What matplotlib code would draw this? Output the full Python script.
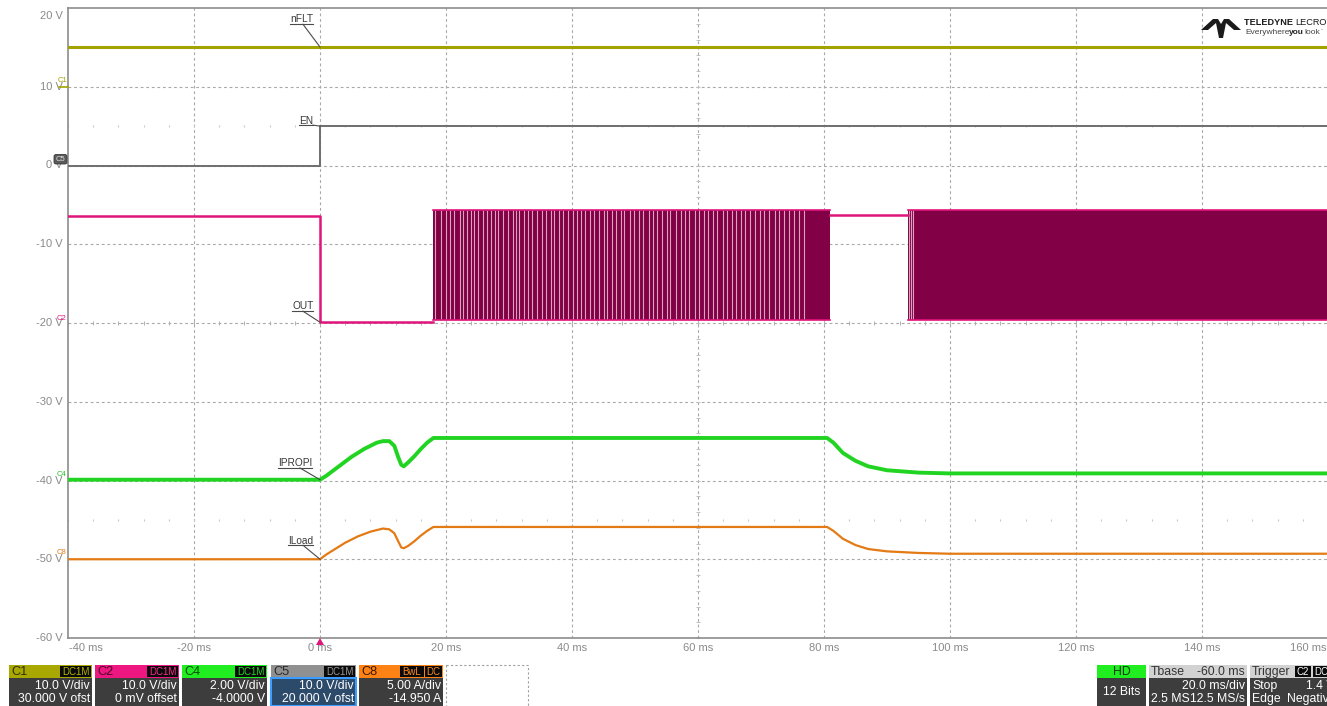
import matplotlib
matplotlib.use('Agg')
import matplotlib.pyplot as plt
from matplotlib.patches import Rectangle, Polygon, FancyBboxPatch

plt.rcParams['font.family'] = ['Liberation Sans', 'DejaVu Sans']

# ---------------- data (time in ms, screen volts) ----------------
x_ticks = [-40, -20, 0, 20, 40, 60, 80, 100, 120, 140, 160]
x_labels = ['-40 ms', '-20 ms', '0 ms', '20 ms', '40 ms', '60 ms', '80 ms',
            '100 ms', '120 ms', '140 ms', '160 ms']
y_ticks = [20, 10, 0, -10, -20, -30, -40, -50, -60]
y_labels = ['20 V', '10 V', '0 V', '-10 V', '-20 V', '-30 V', '-40 V', '-50 V', '-60 V']

# C1 nFLT
nflt_t = [-40, 160]
nflt_v = [15.05, 15.05]

# C5 EN
en_t = [-40, 0, 0, 160]
en_v = [0.0, 0.0, 5.0, 5.0]

# C2 OUT (steady parts)
out_t = [-40, 0, 0, 18.0]
out_v = [-6.4, -6.4, -19.9, -19.9]
out_idle_t = [81.0, 93.4]
out_idle_v = [-6.3, -6.3]
out_burst_high = -5.7
out_burst_low = -19.6
out_bursts = [(18.0, 81.0), (93.4, 160.0)]
out_burst_gaps = [18.2, 19.2, 20.0, 20.7, 21.3, 22.2, 22.7, 23.3, 23.9, 24.5,
                  25.0, 25.8, 26.5, 27.1, 27.7, 28.2, 29.1, 29.8, 30.6, 31.1,
                  31.6, 32.4, 33.0, 33.6, 34.4, 35.3, 35.9, 36.7, 37.2, 38.0,
                  38.6, 39.3, 40.1, 40.8, 41.5, 42.0, 42.9, 43.5, 44.3, 45.1,
                  45.6, 46.4, 47.0, 47.8, 48.3, 49.2, 49.9, 50.6, 51.3, 52.2,
                  52.9, 53.5, 54.3, 55.0, 55.6, 56.5, 57.3, 58.0, 58.6, 59.5,
                  60.2, 61.0, 61.6, 62.4, 63.0, 63.9, 64.6, 65.4, 66.0, 66.9,
                  67.5, 68.3, 69.0, 69.9, 70.5, 71.3, 72.2, 72.8, 73.7, 74.4,
                  75.3, 76.0, 76.9, 93.5, 93.8, 94.2]

# C4 IPROPI
iprop_t = [-40, 0, 1, 2, 3, 4, 5, 6, 7, 8, 9, 10, 11, 11.8, 12.4, 12.9, 13.3,
           14, 15, 16, 17, 18, 80.5, 81.5, 83, 85, 87, 90, 95, 100, 160]
iprop_v = [-39.9, -39.9, -39.4, -38.8, -38.2, -37.6, -37.0, -36.5, -36.0, -35.6,
           -35.2, -35.0, -35.0, -35.6, -37.0, -38.0, -38.2, -37.7, -36.9, -36.0,
           -35.2, -34.6, -34.6, -35.2, -36.5, -37.5, -38.2, -38.7, -39.0, -39.1,
           -39.1]

# C8 ILoad
iload_t = [-40, 0, 1, 2, 3, 4, 5, 6, 7, 8, 9, 10, 11, 11.8, 12.4, 12.9, 13.3,
           14, 15, 16, 17, 18, 80.5, 81.5, 83, 85, 87, 90, 95, 100, 160]
iload_v = [-50.0, -50.0, -49.4, -48.9, -48.4, -47.9, -47.5, -47.1, -46.8, -46.5,
           -46.3, -46.1, -46.2, -46.7, -47.7, -48.5, -48.6, -48.3, -47.7, -47.0,
           -46.4, -45.9, -45.9, -46.4, -47.4, -48.2, -48.7, -49.0, -49.2, -49.3,
           -49.3]

# ---------------- figure ----------------
W, H = 1327, 706
fig = plt.figure(figsize=(W / 100, H / 100), dpi=100)
fig.patch.set_facecolor('white')

AX_L, AX_R, AX_T, AX_B = 68, 1328, 8, 638
ax = fig.add_axes([AX_L / W, (H - AX_B) / H, (AX_R - AX_L) / W, (AX_B - AX_T) / H])
ax.set_xlim(-40, 160)
ax.set_ylim(-60, 20)
ax.set_xticks([])
ax.set_yticks([])
for s in ['left', 'bottom', 'top']:
    ax.spines[s].set_color('#8c8c8c')
    ax.spines[s].set_linewidth(1.2)
ax.spines['right'].set_visible(False)

# pixels per data unit (used to place label leaders a fixed pixel distance away)
PX_T = (AX_R - AX_L) / 200.0
PX_V = (AX_B - AX_T) / 80.0

grid_kw = dict(color='#a8a8a8', lw=0.8, dashes=(2.5, 2.5), zorder=0)
for t in x_ticks[1:-1]:
    ax.axvline(t, **grid_kw)
for v in y_ticks[1:-1]:
    ax.axhline(v, **grid_kw)

# centre-line minor ticks and faint sub-division dots
minor_t = [t / 10 for t in range(-400, 1601, 40)]
minor_v = [v / 10 for v in range(-600, 201, 20)]
ax.plot(minor_t, [-20] * len(minor_t), ls='none', marker='|', ms=3,
        color='#b0b0b0', mew=0.7, zorder=0)
ax.plot([60] * len(minor_v), minor_v, ls='none', marker='_', ms=3,
        color='#c0c0c0', mew=0.7, zorder=0)
ax.plot(minor_t, [5] * len(minor_t), ls='none', marker='|', ms=1.6,
        color='#c8c8c8', mew=0.8, zorder=0)
ax.plot(minor_t, [-45] * len(minor_t), ls='none', marker='|', ms=1.6,
        color='#c8c8c8', mew=0.8, zorder=0)

# tick labels
ytr = ax.get_yaxis_transform()
for v, lab in zip(y_ticks, y_labels):
    va = 'top' if v == 20 else 'center'
    yy = v - 0.35 if v == 20 else v
    ax.text(-0.004, yy, lab, transform=ytr, ha='right', va=va,
            fontsize=8, color='#8a8a8a', clip_on=False)
xtr = ax.get_xaxis_transform()
for i, (t, lab) in enumerate(zip(x_ticks, x_labels)):
    ha = 'left' if i == 0 else ('right' if i == len(x_ticks) - 1 else 'center')
    tt = t + 0.2 if i == 0 else (t - 0.2 if i == len(x_ticks) - 1 else t)
    ax.text(tt, -0.0155, lab, transform=xtr, ha=ha, va='center',
            fontsize=8, color='#8a8a8a', clip_on=False)

# traces
ax.plot(nflt_t, nflt_v, color='#a3a300', lw=2.2, zorder=3)
ax.plot(en_t, en_v, color='#6e6e6e', lw=1.4, zorder=3)

burst_fill = '#820045'
for t0, t1 in out_bursts:
    ax.fill_between([t0, t1], out_burst_low, out_burst_high,
                    color=burst_fill, lw=0, zorder=2)
    ax.plot([t0, t1], [out_burst_high, out_burst_high], color='#e0157c', lw=1.2, zorder=3)
    ax.plot([t0, t1], [out_burst_low, out_burst_low], color='#e0157c', lw=1.2, zorder=3)
ax.vlines(out_burst_gaps, out_burst_low, out_burst_high, color='#d7a3bf',
          lw=0.8, zorder=2.5)
ax.plot(out_t, out_v, color='#e0157c', lw=1.8, zorder=3)
ax.plot(out_idle_t, out_idle_v, color='#e0157c', lw=1.8, zorder=3)

ax.plot(iprop_t, iprop_v, color='#22d422', lw=2.8, zorder=3)
ax.plot(iload_t, iload_v, color='#e47a14', lw=1.6, zorder=3)

# trace labels: underlined text with a leader to the trace at t = 0
labels = [
    # text, target, text centre offset (px), underline x range (px), underline y (px), leader start x (px)
    ('nFLT', (0, nflt_v[0]), (-18.5, 27.5), (-30, -7), 22.7, -17),
    ('EN', (0, en_v[-1]), (-14, 5.5), (-21, -7), 1.0, -7),
    ('OUT', (0, out_v[-1]), (-17, 16), (-28, -7), 11.0, -17),
    ('IPROPI', (0, iprop_v[0]), (-25, 17), (-42, -8), 11.7, -20),
    ('ILoad', (0, iload_v[0]), (-19.5, 18.3), (-32, -7), 14.0, -17),
]
line_col = '#4a4a4a'
for text, (t, v), (tx, ty), (u0, u1), uy, lx in labels:
    ax.text(t + tx / PX_T, v + ty / PX_V, text, ha='center', va='center',
            fontsize=7.3, color='#3a3a3a', zorder=6)
    ax.plot([t + u0 / PX_T, t + u1 / PX_T], [v + uy / PX_V] * 2,
            color=line_col, lw=0.8, zorder=6)
    ax.plot([t + lx / PX_T, t], [v + uy / PX_V, v], color=line_col, lw=0.8, zorder=6)

# ---------------- overlay: channel tags, readout panels, logo ----------------
ov = fig.add_axes([0, 0, 1, 1])
ov.set_xlim(0, W)
ov.set_ylim(H, 0)
ov.axis('off')
ov.patch.set_alpha(0)

# channel ground markers on the left edge
ov.text(58, 81, 'C1', fontsize=5.5, color='#a3a300', ha='left', va='center')
ov.plot([59, 68], [87, 87], color='#a3a300', lw=1.2)
ov.add_patch(FancyBboxPatch((54, 154.5), 13, 9.5, boxstyle='round,pad=0,rounding_size=2',
                            fc='#5a5a5a', ec='#3a3a3a', lw=0.6))
ov.text(60.5, 159.5, 'C5', fontsize=5.5, color='#e0e0e0', ha='center', va='center')
ov.text(57, 318, 'C2', fontsize=5.5, color='#e0157c', ha='left', va='center')
ov.text(57, 475, 'C4', fontsize=5.5, color='#22c422', ha='left', va='center')
ov.text(57, 553, 'C8', fontsize=5.5, color='#e47a14', ha='left', va='center')

# trigger marker
ov.add_patch(Polygon([(316, 645), (324, 645), (320, 638)], closed=True,
                     fc='#e0157c', ec='none'))

HY0, HY1, BY1 = 665, 678, 706
PFS = 8.8


def channel_panel(x0, x1, head, name, name_col, tags, tag_col, line1, line2,
                  body='#3d3d3d', border=None):
    ov.add_patch(Rectangle((x0, HY0), x1 - x0, HY1 - HY0, fc=head, ec='none'))
    ov.add_patch(Rectangle((x0, HY1), x1 - x0, BY1 - HY1, fc=body,
                           ec=border if border else 'none', lw=1.5 if border else 0))
    ov.text(x0 + 2, (HY0 + HY1) / 2 + 0.5, name, fontsize=PFS + 0.4, color=name_col,
            ha='left', va='center')
    xr = x1 - 1
    for tg in reversed(tags):
        w = 7.0 * len(tg) + 3
        ov.add_patch(Rectangle((xr - w, HY0 + 1), w, HY1 - HY0 - 2, fc='#0a0a0a', ec='none'))
        ov.text(xr - w / 2, (HY0 + HY1) / 2 + 0.5, tg, fontsize=7.0, color=tag_col,
                ha='center', va='center')
        xr -= w + 1.5
    ov.text(x1 - 2, 686, line1, fontsize=PFS, color='white', ha='right', va='center')
    ov.text(x1 - 2, 699, line2, fontsize=PFS, color='white', ha='right', va='center')


channel_panel(9, 92, '#a8a800', 'C1', '#2e2e00', ['DC1M'], '#b8b800',
              '10.0 V/div', '30.000 V ofst')
channel_panel(95, 179, '#ee1680', 'C2', '#4a0a28', ['DC1M'], '#ff2a90',
              '10.0 V/div', '0 mV offset')
channel_panel(182, 267, '#20ee20', 'C4', '#0c4a0c', ['DC1M'], '#20dd20',
              '2.00 V/div', '-4.0000 V')
channel_panel(271, 356, '#909090', 'C5', '#2a2a2a', ['DC1M'], '#9a9a9a',
              '10.0 V/div', '20.000 V ofst', body='#2c4a6a', border='#3d9cff')
channel_panel(359, 443, '#ff8214', 'C8', '#3a1800', ['BwL', 'DC'], '#ff8a20',
              '5.00 A/div', '-14.950 A')
ov.add_patch(Rectangle((446, HY0), 82, BY1 - HY0 + 2, fc='none', ec='#a0a0a0',
                       lw=0.8, ls=(0, (2, 2))))

# acquisition readouts
ov.add_patch(Rectangle((1097, HY0), 49, HY1 - HY0, fc='#20ee20', ec='none'))
ov.add_patch(Rectangle((1097, HY1), 49, BY1 - HY1, fc='#3d3d3d', ec='none'))
ov.text(1121.5, 672, 'HD', fontsize=PFS, color='#0c3a0c', ha='center', va='center')
ov.text(1121.5, 692, '12 Bits', fontsize=PFS, color='white', ha='center', va='center')

ov.add_patch(Rectangle((1149, HY0), 98, HY1 - HY0, fc='#d2d2d2', ec='none'))
ov.add_patch(Rectangle((1149, HY1), 98, BY1 - HY1, fc='#3d3d3d', ec='none'))
ov.text(1151, 672, 'Tbase', fontsize=PFS, color='#333333', ha='left', va='center')
ov.text(1245, 672, '-60.0 ms', fontsize=PFS, color='#333333', ha='right', va='center')
ov.text(1245, 686, '20.0 ms/div', fontsize=PFS, color='white', ha='right', va='center')
ov.text(1151, 699, '2.5 MS', fontsize=PFS, color='white', ha='left', va='center')
ov.text(1245, 699, '12.5 MS/s', fontsize=PFS, color='white', ha='right', va='center')

ov.add_patch(Rectangle((1250, HY0), 80, HY1 - HY0, fc='#d2d2d2', ec='none'))
ov.add_patch(Rectangle((1250, HY1), 80, BY1 - HY1, fc='#3d3d3d', ec='none'))
ov.text(1252, 672, 'Trigger', fontsize=PFS, color='#333333', ha='left', va='center')
ov.add_patch(Rectangle((1295, HY0 + 1), 16, HY1 - HY0 - 2, fc='#0a0a0a', ec='none'))
ov.text(1303, 672, 'C2', fontsize=7.0, color='white', ha='center', va='center')
ov.add_patch(Rectangle((1313, HY0 + 1), 16, HY1 - HY0 - 2, fc='#0a0a0a', ec='none'))
ov.text(1314, 672, 'DC', fontsize=7.0, color='white', ha='left', va='center')
ov.text(1252, 686, 'Stop', fontsize=PFS, color='white', ha='left', va='center')
ov.text(1306, 686, '1.4 V', fontsize=PFS, color='white', ha='left', va='center')
ov.text(1252, 699, 'Edge', fontsize=PFS, color='white', ha='left', va='center')
ov.text(1287, 699, 'Negative', fontsize=PFS, color='white', ha='left', va='center')

# logo
ov.add_patch(Polygon([(1201, 30), (1213, 19), (1218, 19), (1221, 24), (1224, 19),
                      (1229, 19), (1241, 30), (1234, 30), (1226, 23), (1223, 38),
                      (1219, 38), (1216, 23), (1208, 30)], closed=True,
                     fc='#1a1a1a', ec='none'))
renderer = fig.canvas.get_renderer()


def text_run(x, y, parts):
    """Place consecutive text pieces with different styles on one line."""
    for s, kw in parts:
        txt = ov.text(x, y, s, ha='left', va='center', **kw)
        bb = txt.get_window_extent(renderer=renderer)
        x += bb.width  # overlay x units are pixels


text_run(1244, 22.5, [('TELEDYNE ', dict(fontsize=6.6, fontweight='bold', color='#1a1a1a')),
                      ('LECROY', dict(fontsize=6.6, color='#1a1a1a'))])
text_run(1245, 32, [('Everywhere', dict(fontsize=6.0, color='#444444')),
                    ('you', dict(fontsize=6.0, fontweight='bold', color='#222222')),
                    ('look', dict(fontsize=6.0, color='#444444')),
                    ('\u02dc', dict(fontsize=4.5, color='#666666'))])

fig.savefig('out.png', dpi=100)
